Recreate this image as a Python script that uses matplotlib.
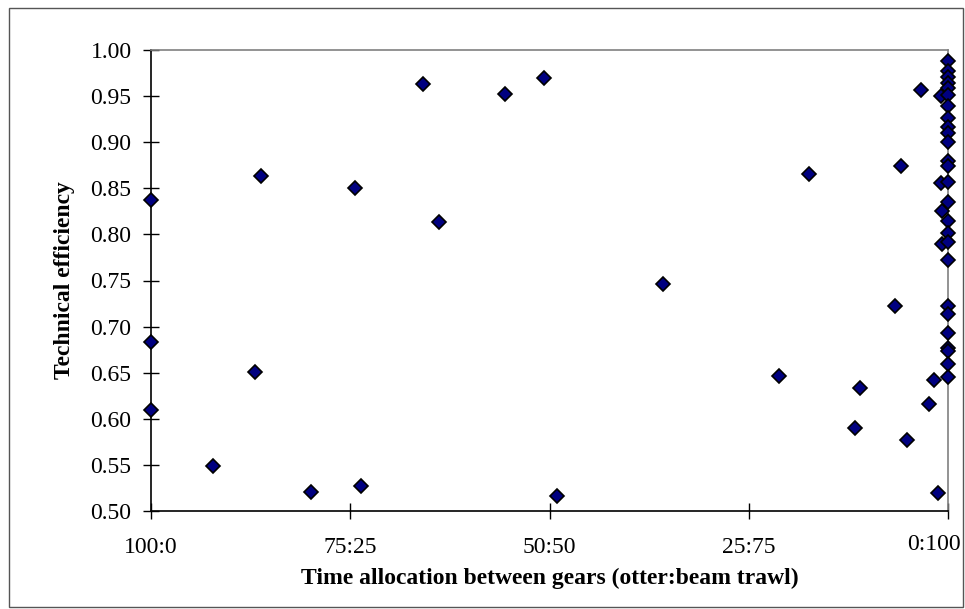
import matplotlib
matplotlib.use("Agg")
import matplotlib.pyplot as plt
from matplotlib.patches import Rectangle

# share of time with beam trawl (%), technical efficiency
beam_share = [0, 0, 0, 7.8, 13.0, 13.8, 20.1, 25.6, 26.3, 34.1, 36.1, 44.4, 49.3,
              50.9, 64.2, 78.8, 82.6, 88.3, 89.0, 93.3, 94.1, 94.8, 96.6, 97.6,
              98.3, 98.7, 99.1, 99.1, 99.2, 99.3,
              100, 100, 100, 100, 100, 100, 100, 100, 100, 100, 100, 100, 100,
              100, 100, 100, 100, 100, 100, 100, 100, 100, 100, 100, 100, 100]
efficiency = [0.837, 0.683, 0.610, 0.549, 0.651, 0.863, 0.521, 0.850, 0.527, 0.963,
              0.813, 0.952, 0.970, 0.516, 0.746, 0.646, 0.866, 0.590, 0.633, 0.722,
              0.874, 0.577, 0.957, 0.616, 0.642, 0.519, 0.950, 0.856, 0.825, 0.790,
              0.988, 0.977, 0.971, 0.964, 0.959, 0.951, 0.939, 0.926, 0.916, 0.910,
              0.900, 0.880, 0.874, 0.857, 0.835, 0.814, 0.802, 0.792, 0.772, 0.722,
              0.714, 0.693, 0.677, 0.673, 0.659, 0.645]

x_ticks = [0, 25, 50, 75, 100]
x_ticklabels = ["100:0", "75:25", "50:50", "25:75", "0:100"]
y_ticks = [0.50, 0.55, 0.60, 0.65, 0.70, 0.75, 0.80, 0.85, 0.90, 0.95, 1.00]

plt.rcParams['font.family'] = ['Liberation Serif', 'DejaVu Serif']

W, H = 965, 609
fig = plt.figure(figsize=(W / 100, H / 100), dpi=100)
fig.patch.set_facecolor("white")

# outer frame
fig.patches.append(Rectangle((9 / W, 1 - 607 / H), 954 / W, 599 / H,
                             transform=fig.transFigure, fill=False,
                             edgecolor="#555555", lw=1))

ax = fig.add_axes([151 / W, 1 - 511 / H, 797 / W, 461 / H])
ax.plot(beam_share, efficiency, linestyle="none", marker="D", ms=7,
        mfc="#000080", mec="black", mew=1.2, clip_on=False, zorder=3)

ax.set_xlim(0, 100)
ax.set_ylim(0.5, 1.0)
ax.set_xticks(x_ticks)
# last label is drawn separately, pulled left so it fits in the frame
ax.set_xticklabels(x_ticklabels[:-1] + [""])
ax.set_yticks(y_ticks)
ax.set_yticklabels([f"{v:.2f}" for v in y_ticks])

for s in ("left", "bottom"):
    ax.spines[s].set_color("black")
    ax.spines[s].set_linewidth(1.2)
for s in ("top", "right"):
    ax.spines[s].set_color("#808080")
    ax.spines[s].set_linewidth(1.2)

xpad = 12.5
ax.tick_params(direction="inout", length=12, width=1, labelsize=17)
ax.tick_params(axis="y", pad=8)
ax.tick_params(axis="x", pad=xpad)

ax.annotate(x_ticklabels[-1], xy=(x_ticks[-1], 0), xycoords=("data", "axes fraction"),
            xytext=(-14, -(6 + xpad * 100 / 72)), textcoords="offset pixels",
            ha="center", va="top", fontsize=17, annotation_clip=False)

ax.set_xlabel("Time allocation between gears (otter:beam trawl)",
              fontsize=17, fontweight="bold", labelpad=7.5)
ax.set_ylabel("Technical efficiency", fontsize=17, fontweight="bold",
              labelpad=11)

fig.savefig("out.png", dpi=100)
